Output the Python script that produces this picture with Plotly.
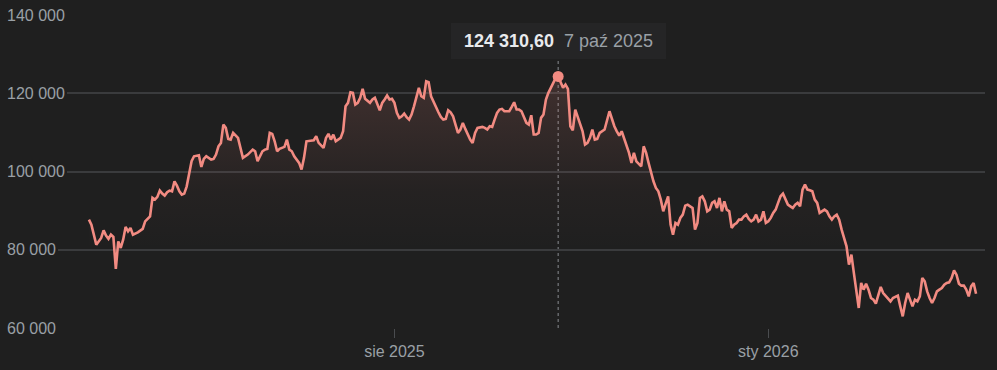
import plotly.graph_objects as go
import pandas as pd

# ---------------- data ----------------
base_date = "2025-08-01"  # day_offsets are counted from this date

day_offsets = [
    -125, -124, -123, -122, -120, -119, -118, -117, -116, -115, -114, -113, -112, -111, -110, -109,
    -108, -107, -105, -104, -103, -102, -100, -99, -98, -97, -96, -95, -94, -93, -92, -91,
    -90, -89, -88, -87, -86, -85, -84, -83, -82, -80, -79, -78, -77, -76, -75, -74,
    -73, -72, -71, -70, -69, -68, -67, -66, -65, -64, -63, -62, -60, -58, -57, -56,
    -54, -53, -52, -51, -50, -49, -48, -47, -45, -44, -43, -42, -41, -39, -38, -37,
    -36, -34, -33, -32, -31, -29, -28, -27, -26, -25, -24, -22, -21, -20, -19, -18,
    -17, -16, -15, -14, -13, -12, -11, -10, -9, -8, -6, -5, -4, -3, -2, -1,
    0, 1, 2, 3, 4, 5, 6, 7, 8, 9, 10, 11, 12, 13, 14, 15,
    16, 17, 18, 19, 20, 21, 22, 23, 24, 25, 26, 27, 28, 29, 30, 31,
    32, 33, 34, 36, 37, 38, 39, 40, 41, 42, 43, 44, 45, 47, 48, 49,
    50, 51, 52, 53, 54, 55, 56, 57, 58, 59, 60, 61, 62, 63, 64, 65,
    66, 67, 68, 69, 70, 71, 72, 73, 74, 75, 76, 77, 78, 79, 80, 81,
    82, 83, 84, 86, 88, 89, 90, 91, 92, 93, 94, 95, 96, 97, 98, 99,
    100, 101, 102, 103, 104, 105, 106, 107, 108, 109, 110, 111, 112, 113, 114, 115,
    116, 117, 118, 119, 120, 121, 122, 123, 124, 125, 126, 127, 128, 129, 130, 131,
    132, 133, 134, 135, 136, 137, 138, 139, 140, 141, 142, 143, 144, 145, 146, 147,
    148, 149, 150, 151, 152, 153, 154, 155, 156, 157, 158, 159, 160, 161, 162, 163,
    164, 165, 166, 167, 168, 169, 170, 171, 172, 173, 174, 175, 176, 177, 178, 179,
    180, 181, 182, 183, 184, 185, 186, 187, 188, 189, 190, 191, 192, 193, 194, 195,
    196, 197, 198, 199, 200, 201, 202, 203, 204, 205, 206, 207, 208, 209, 210, 211,
    212, 213, 214, 215, 216, 217, 218, 219, 220, 221, 222, 223, 224, 225, 226, 227,
    228, 229, 230, 231, 232, 233, 234, 235, 236, 237, 238,
]

prices = [
    87700, 86420, 83860, 81300, 83020, 84960, 83610, 82760, 83860, 83270, 75090, 82150, 80460, 82580, 85830, 84710,
    85580, 83860, 84450, 84960, 85320, 87260, 88540, 93250, 92810, 93500, 95120, 94350, 93840, 94680, 95120, 94940,
    97490, 96390, 94940, 94090, 94350, 96210, 99210, 102610, 103890, 104140, 101180, 103220, 103890, 103480, 103040, 103220,
    104320, 106440, 107310, 111990, 111150, 108340, 108160, 109870, 109180, 108590, 106040, 103480, 104320, 105600, 105170, 102610,
    105170, 105600, 105780, 109870, 109620, 107720, 105170, 105780, 106290, 108160, 105600, 105170, 103890, 102200, 100490, 103480,
    107720, 107980, 107980, 109000, 107310, 106040, 108590, 109620, 108160, 109440, 107720, 108590, 110280, 116670, 117540, 120260,
    120100, 117110, 117540, 118820, 121120, 118570, 117950, 117540, 118390, 118820, 115650, 117540, 118390, 119410, 118390, 118570,
    117540, 114990, 113710, 114120, 114810, 113860, 113270, 114550, 116670, 119080, 121380, 119230, 118820, 123070, 122810, 119230,
    117800, 116270, 115140, 113960, 113270, 113450, 115650, 115140, 114120, 111990, 109870, 110720, 112430, 110890, 109360, 108160,
    107310, 109870, 111150, 111410, 111150, 110720, 111560, 111410, 113270, 114990, 115830, 116010, 115400, 115400, 116520, 117700,
    115830, 115830, 115400, 114120, 112430, 111990, 114370, 109440, 109440, 109870, 113710, 114550, 118390, 120100, 121380, 122660,
    123940, 124310.60, 122660, 121380, 122220, 121120, 111560, 110540, 115830, 114120, 112430, 110280, 106880, 107310, 108590, 110720,
    108160, 108340, 109870, 110720, 115400, 113270, 111560, 110280, 109180, 110280, 108590, 106880, 104760, 102200, 104760, 102610,
    102020, 101330, 106440, 104760, 102200, 99640, 97490, 95810, 94940, 92810, 89820, 91790, 93660, 86420, 83860, 86850,
    86420, 88130, 88980, 91280, 91530, 91100, 90690, 85140, 86850, 93250, 93660, 92380, 89820, 90260, 91970, 92380,
    90690, 93250, 89820, 92380, 90260, 89820, 85580, 86420, 86850, 87700, 87700, 88540, 88980, 87880, 87260, 87700,
    88980, 87260, 87700, 89820, 86850, 87260, 88130, 89410, 90260, 91970, 93660, 94350, 92810, 91530, 91100, 90690,
    91530, 91970, 91100, 95370, 96650, 95370, 95190, 94940, 92810, 91970, 89410, 89820, 90260, 89820, 88540, 87700,
    88540, 88980, 87700, 85140, 83020, 80870, 76190, 78750, 74070, 69800, 65120, 71510, 69800, 71330, 69800, 67670,
    67240, 66220, 68520, 70490, 68950, 68260, 67670, 66800, 67670, 68080, 68260, 65520, 62970, 66390, 68950, 67240,
    65520, 67240, 66800, 68080, 72790, 71920, 69360, 67670, 66390, 67670, 69360, 69800, 70230, 71070, 71510, 71660,
    72790, 74730, 73630, 71330, 70820, 70820, 69800, 68080, 70640, 71510, 68770,
]

y_tick_values = [60000, 80000, 100000, 120000, 140000]
x_tick_dates = ["2025-08-01", "2026-01-01"]
x_tick_labels = ["sie 2025", "sty 2026"]
highlight_date = "2025-10-07"
pl_month_abbr = ["sty", "lut", "mar", "kwi", "maj", "cze", "lip", "sie", "wrz", "paź", "lis", "gru"]

# ---------------- build ----------------
dates = pd.Timestamp(base_date) + pd.to_timedelta(day_offsets, unit="D")
hl_ts = pd.Timestamp(highlight_date)
hl_idx = list(dates).index(hl_ts)
hl_val = prices[hl_idx]


def fmt_pl(v, decimals=0):
    s = f"{v:,.{decimals}f}"
    return s.replace(",", "\u00a0").replace(".", ",").replace("\u00a0", " ")


hl_val_txt = fmt_pl(hl_val, 2)
hl_date_txt = f"{hl_ts.day} {pl_month_abbr[hl_ts.month - 1]} {hl_ts.year}"

BG = "#1f1f1f"
LINE = "#f28b82"
GRID = "#3a3b3d"
LABEL = "#9aa0a6"
FONT = "Liberation Sans, Arial, sans-serif"

fig = go.Figure()

fig.add_trace(go.Scatter(
    x=dates, y=prices, mode="lines",
    line=dict(color=LINE, width=2.6),
    fill="tozeroy",
    fillgradient=dict(
        type="vertical",
        start=80000, stop=124310,
        colorscale=[[0, "rgba(242,139,130,0)"],
                    [0.35, "rgba(242,139,130,0.03)"],
                    [1, "rgba(242,139,130,0.16)"]],
    ),
    hoverinfo="skip",
    showlegend=False,
))

fig.add_trace(go.Scatter(
    x=[hl_ts], y=[hl_val], mode="markers",
    marker=dict(size=11, color=LINE),
    hoverinfo="skip", showlegend=False,
))

# dashed hover line
fig.add_shape(
    type="line", xref="x", yref="paper",
    x0=hl_ts, x1=hl_ts, y0=0, y1=0.857,
    line=dict(color="#8a8d91", width=1, dash="3px,3px"),
    layer="below",
)

annotations = []
for v in y_tick_values:
    annotations.append(dict(
        xref="paper", yref="y", x=0, y=v, xanchor="left", yanchor="middle",
        text=fmt_pl(v), showarrow=False,
        font=dict(family=FONT, size=16, color=LABEL),
        bgcolor=BG, borderpad=2, borderwidth=0,
    ))

annotations.append(dict(
    xref="x", yref="paper", x=hl_ts, y=0.917, xanchor="center", yanchor="middle",
    text=(f"<b>{hl_val_txt}</b>&nbsp;&nbsp;"
          f"<span style='color:{LABEL}'>{hl_date_txt}</span>"),
    showarrow=False,
    font=dict(family=FONT, size=18, color="#e8eaed"),
    bgcolor="#252526", borderpad=8, borderwidth=0, width=199,
))

fig.update_layout(
    width=997, height=370,
    paper_bgcolor=BG, plot_bgcolor=BG,
    margin=dict(l=5, r=12, t=15, b=42),
    font=dict(family=FONT, size=16, color=LABEL),
    annotations=annotations,
    showlegend=False,
    hovermode=False,
)

fig.update_xaxes(
    range=["2025-02-22 15:36", "2026-03-30 16:00"],
    tickvals=x_tick_dates, ticktext=x_tick_labels,
    ticks="outside", ticklen=9, tickwidth=1, tickcolor="#4a4c4f",
    tickfont=dict(family=FONT, size=16, color=LABEL),
    showgrid=False, zeroline=False,
    showline=False,
)

fig.update_yaxes(
    range=[60000, 140000],
    tickvals=y_tick_values,
    showticklabels=False,
    showgrid=True, gridcolor=GRID, gridwidth=2,
    zeroline=False, showline=False,
)

fig.write_html(
    "out.html",
    config={"displayModeBar": False},
    post_script="document.body.style.margin='0';document.body.style.background='#1f1f1f';",
)
